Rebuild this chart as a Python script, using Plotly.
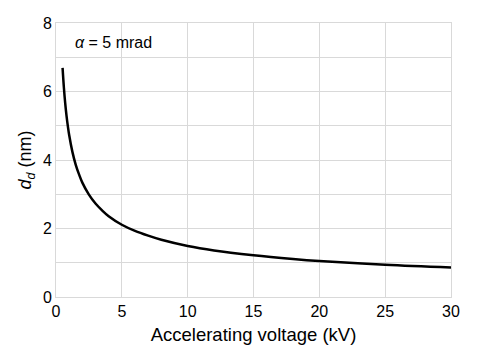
import plotly.graph_objects as go

voltage_kv = [0.5, 0.6, 0.7, 0.8, 0.9, 1.0, 1.25, 1.5, 1.75, 2.0, 2.5, 3.0, 3.5, 4.0, 5.0, 6.0, 7.0, 8.0, 10.0, 12.0, 15.0, 18.0, 20.0, 25.0, 30.0]
d_d_nm = [6.69, 6.11, 5.65, 5.29, 4.99, 4.73, 4.23, 3.86, 3.58, 3.34, 2.99, 2.73, 2.53, 2.36, 2.11, 1.93, 1.79, 1.67, 1.49, 1.36, 1.22, 1.11, 1.05, 0.94, 0.86]
x_ticks = [0, 5, 10, 15, 20, 25, 30]
y_ticks = [0, 2, 4, 6, 8]

font = "Arial, 'Liberation Sans', sans-serif"

fig = go.Figure()
fig.add_trace(go.Scatter(x=voltage_kv, y=d_d_nm, mode="lines",
                         line=dict(color="black", width=2.5, shape="spline"),
                         showlegend=False))

fig.add_annotation(x=1.3, y=7.42, xref="x", yref="y", text="<i>α</i> = 5 mrad",
                   showarrow=False, xanchor="left", yanchor="middle",
                   font=dict(family=font, size=16, color="black"))

grid = "#d9d9d9"
fig.update_xaxes(range=[0, 30], tickvals=x_ticks, showgrid=True, gridcolor=grid, gridwidth=1,
                 showline=True, linecolor=grid, linewidth=1, mirror=True, zeroline=False,
                 ticks="", tickfont=dict(family=font, size=16, color="black"),
                 title=dict(text="Accelerating voltage (kV)", font=dict(family=font, size=18.5, color="black"), standoff=8))
fig.update_yaxes(range=[0, 8], tickvals=y_ticks, showgrid=True, gridcolor=grid, gridwidth=1,
                 minor=dict(dtick=1, showgrid=True, gridcolor=grid, gridwidth=1),
                 showline=True, linecolor=grid, linewidth=1, mirror=True, zeroline=False,
                 ticks="", tickfont=dict(family=font, size=16, color="black"),
                 title=dict(text="<i>d</i><sub><i>d</i></sub> (nm)", font=dict(family=font, size=18, color="black"), standoff=6))

fig.update_layout(width=487, height=354, margin=dict(l=56, r=36, t=23, b=57),
                  paper_bgcolor="white", plot_bgcolor="white")

fig.write_html("out.html")
